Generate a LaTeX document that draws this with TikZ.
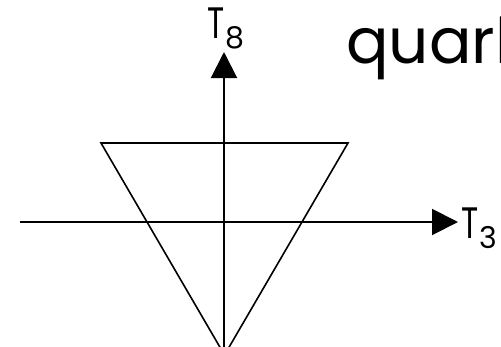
\documentclass[tikz,border=0pt]{standalone}
\usepackage{fontspec}
\setmainfont{Poppins}
\usetikzlibrary{arrows.meta}
\tikzset{
  axis/.style={line width=2pt, -{Triangle[length=26pt,width=26pt]}},
  tri/.style={line width=1.6pt, line join=miter},
  lbl/.style={inner sep=0pt, anchor=base west, font=\fontsize{44}{44}\selectfont},
}
\newcommand{\bigT}{\scalebox{0.72}[1]{T}}
\newcommand{\subdig}[1]{\raisebox{-10.5pt}{\fontsize{30}{30}\selectfont #1}}
\begin{document}
\begin{tikzpicture}[x=1pt,y=-1pt]
\useasboundingbox (0,0) rectangle (501,346);
% axes
\coordinate (vb) at (224,360);
\coordinate (vt) at (224,52);
\coordinate (hl) at (20,222);
\coordinate (hr) at (458,222);
\draw[axis] (vb) -- (vt);
\draw[axis] (hl) -- (hr);
% triangle
\coordinate (a) at (101,143);
\coordinate (b) at (348,143);
\coordinate (c) at (224.5,355);
\draw[tri] (a) -- (b) -- (c) -- cycle;
% labels
\node[lbl] (t8) at (207,38) {\bigT\hspace{1pt}\subdig{8}};
\node[lbl] (t3) at (461,238) {\bigT\hspace{1pt}\subdig{3}};
\node[inner sep=0pt, anchor=base west, font=\fontsize{63}{63}\selectfont] (q) at (346,63) {quark};
\end{tikzpicture}
\end{document}
